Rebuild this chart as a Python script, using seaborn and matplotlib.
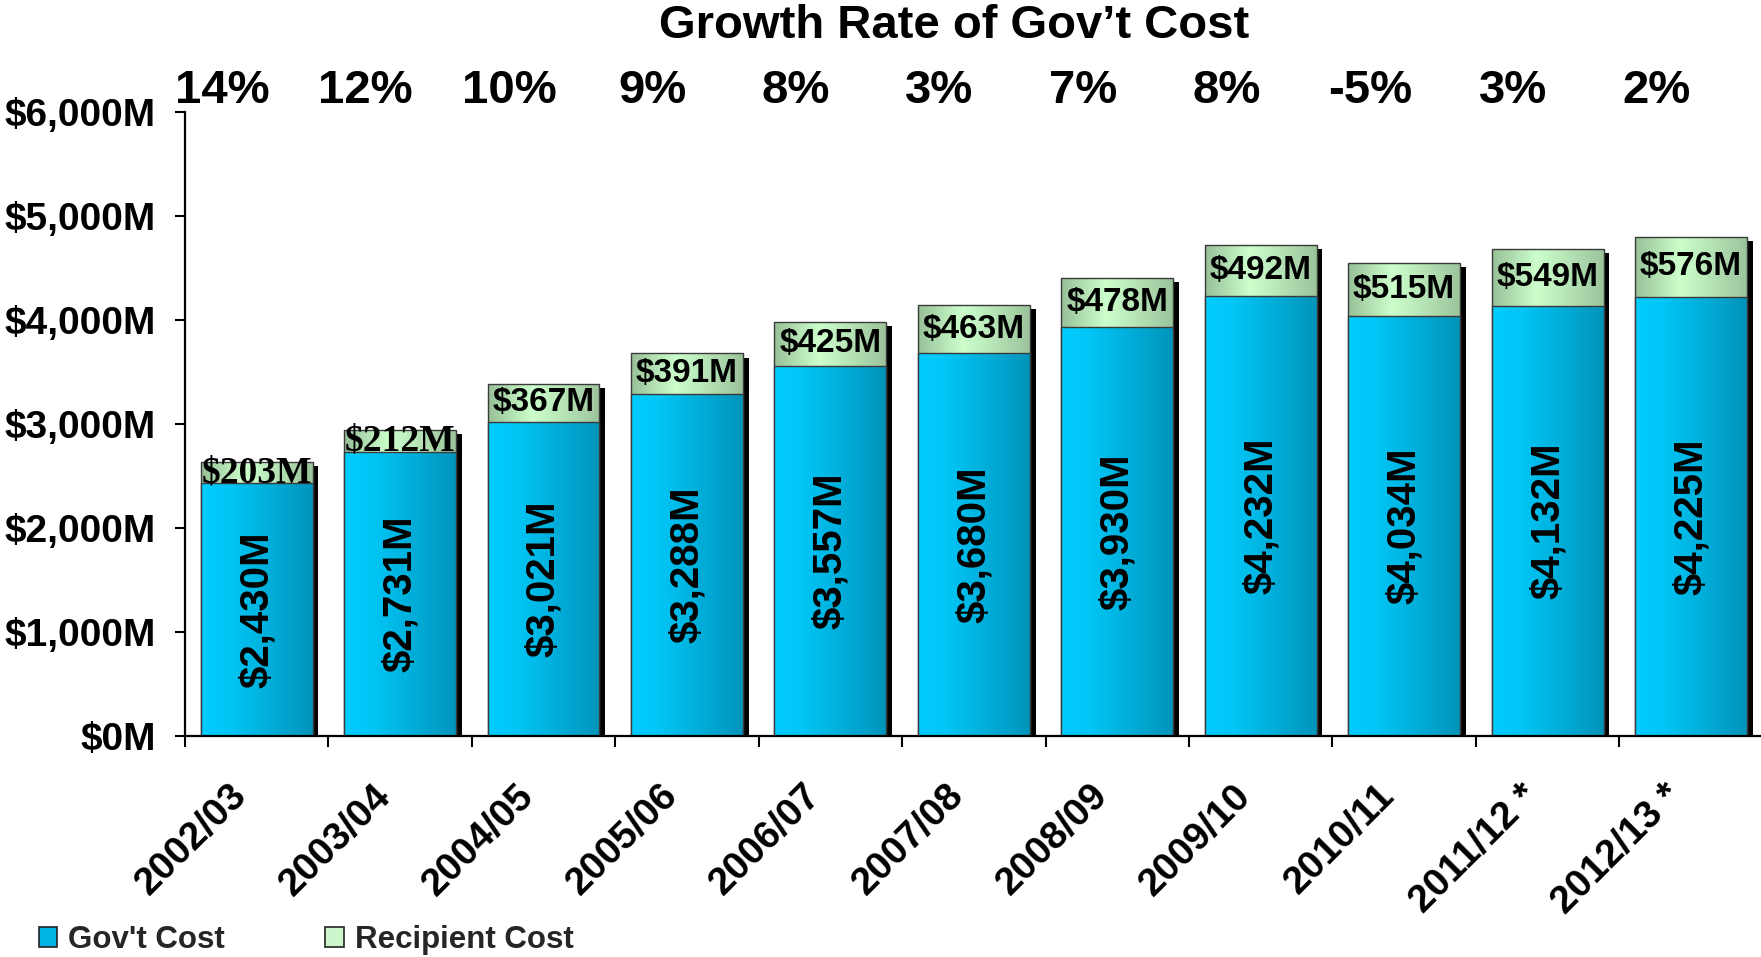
import numpy as np
import pandas as pd
import matplotlib
matplotlib.use("Agg")
import matplotlib.pyplot as plt
import matplotlib.patches as mpatches
import matplotlib.patheffects as pe
from matplotlib.colors import LinearSegmentedColormap
from matplotlib.transforms import ScaledTranslation
from matplotlib.ticker import FuncFormatter, FixedLocator
import seaborn as sns

# ---- data ----
years = ["2002/03", "2003/04", "2004/05", "2005/06", "2006/07", "2007/08",
         "2008/09", "2009/10", "2010/11", "2011/12 *", "2012/13 *"]
gov_cost = [2430, 2731, 3021, 3288, 3557, 3680, 3930, 4232, 4034, 4132, 4225]
recipient_cost = [203, 212, 367, 391, 425, 463, 478, 492, 515, 549, 576]
growth_pct = [14, 12, 10, 9, 8, 3, 7, 8, -5, 3, 2]
y_ticks = [0, 1000, 2000, 3000, 4000, 5000, 6000]

# font used for each recipient label
recip_fonts = ["Liberation Serif"] * 2 + ["Liberation Sans"] * 9

df = pd.DataFrame({"year": years, "gov": gov_cost, "recip": recipient_cost})
df["total"] = df["gov"] + df["recip"]

sns.set_theme(style="white")
plt.rcParams["font.family"] = ["Liberation Sans", "DejaVu Sans"]
plt.rcParams["font.weight"] = "bold"

fig = plt.figure(figsize=(17.61, 9.57), dpi=100)
ax = fig.add_axes([0.105, 0.231, 0.896, 0.652])

BAR_W = 0.78
gov_cmap = LinearSegmentedColormap.from_list(
    "gov", [(0, "#00CCFF"), (0.25, "#00C6F6"), (1, "#0094BB")])
rec_cmap = LinearSegmentedColormap.from_list(
    "rec", [(0, "#98C098"), (0.4, "#CCFFCC"), (1, "#9CC49C")])

sns.barplot(data=df, x="year", y="total", color="#B8E6B8", saturation=1,
            width=BAR_W, ax=ax, zorder=2)
n = len(df)
total_patches = list(ax.patches[:n])
sns.barplot(data=df, x="year", y="gov", color="#00B4E4", saturation=1,
            width=BAR_W, ax=ax, zorder=3)
gov_patches = list(ax.patches[n:2 * n])

grad = np.linspace(0, 1, 256).reshape(1, -1)


def dress(patch, cmap, z, shadow=False):
    x0, y0 = patch.get_x(), patch.get_y()
    w, h = patch.get_width(), patch.get_height()
    patch.set_zorder(z)
    patch.set_edgecolor("none")
    if shadow:
        patch.set_path_effects([
            pe.SimplePatchShadow(offset=(4.2, -3), shadow_rgbFace="black", alpha=1.0),
            pe.Normal()])
    im = ax.imshow(grad, cmap=cmap, aspect="auto", interpolation="bilinear",
                   extent=(x0, x0 + w, y0, y0 + h), zorder=z + 0.2)
    im.set_clip_path(patch)
    ax.add_patch(mpatches.Rectangle((x0, y0), w, h, fill=False,
                                    edgecolor="#3A3A3A", linewidth=1.0,
                                    zorder=z + 0.4))


for p in total_patches:
    dress(p, rec_cmap, 2, shadow=True)
for p in gov_patches:
    dress(p, gov_cmap, 3)

ax.set_xlim(-0.5, n - 0.5)
ax.set_ylim(0, 6000)

# value labels
for i, (g, r) in enumerate(zip(gov_cost, recipient_cost)):
    ax.text(i, g / 2, f"${g:,}M", rotation=90, ha="center", va="center",
            fontsize=29, fontweight="bold", color="black", zorder=6)
    serif = recip_fonts[i] == "Liberation Serif"
    ax.text(i, g + r / 2, f"${r}M", ha="center", va="center",
            fontsize=27 if serif else 24, fontweight="bold",
            family=[recip_fonts[i], "DejaVu Sans"], color="black", zorder=6)

# growth rate row above the plot
for i, gpct in enumerate(growth_pct):
    ax.text(i - 0.24, 1.034, f"{gpct}%", transform=ax.get_xaxis_transform(),
            ha="center", va="center", fontsize=34, fontweight="bold",
            color="black", clip_on=False)
fig.text(0.542, 0.973, "Growth Rate of Gov\u2019t Cost", ha="center",
         va="center", fontsize=34, fontweight="bold", color="black")

# axes styling
for side in ("top", "right"):
    ax.spines[side].set_visible(False)
for side in ("left", "bottom"):
    ax.spines[side].set_color("black")
    ax.spines[side].set_linewidth(1.6)
    ax.spines[side].set_zorder(7)

ax.set_yticks(y_ticks)
ax.yaxis.set_major_formatter(FuncFormatter(lambda v, _: f"${v:,.0f}M"))
ax.tick_params(axis="y", which="major", left=True, length=7, width=1.5,
               direction="out", pad=14, labelsize=28, colors="black")
for lab in ax.get_yticklabels():
    lab.set_fontweight("bold")

ax.set_xticks(range(n))
ax.set_xticklabels(years)
ax.xaxis.set_minor_locator(FixedLocator(np.arange(-0.5, n, 1.0)))
ax.tick_params(axis="x", which="major", bottom=True, length=0, pad=30,
               labelsize=28, colors="black")
ax.tick_params(axis="x", which="minor", bottom=True, length=8, width=1.5,
               direction="out", color="black")
shift = ScaledTranslation(-0.28, 0, fig.dpi_scale_trans)
for lab in ax.get_xticklabels():
    lab.set_rotation(45)
    lab.set_rotation_mode("anchor")
    lab.set_ha("right")
    lab.set_va("top")
    lab.set_fontweight("bold")
    lab.set_transform(lab.get_transform() + shift)

ax.set_xlabel("")
ax.set_ylabel("")
ax.grid(False)

handles = [mpatches.Patch(facecolor="#00B4E4", edgecolor="#222222", linewidth=1.2,
                          label="Gov't Cost"),
           mpatches.Patch(facecolor="#CCF5CC", edgecolor="#222222", linewidth=1.2,
                          label="Recipient Cost")]
fig.legend(handles=handles, loc="center left", bbox_to_anchor=(0.022, 0.018),
           ncol=2, frameon=False, prop={"weight": "bold", "size": 22.5},
           handlelength=0.6, handleheight=0.6, handletextpad=0.35,
           columnspacing=3.2, borderpad=0, borderaxespad=0)

fig.savefig("out.png", dpi=100, facecolor="white")
